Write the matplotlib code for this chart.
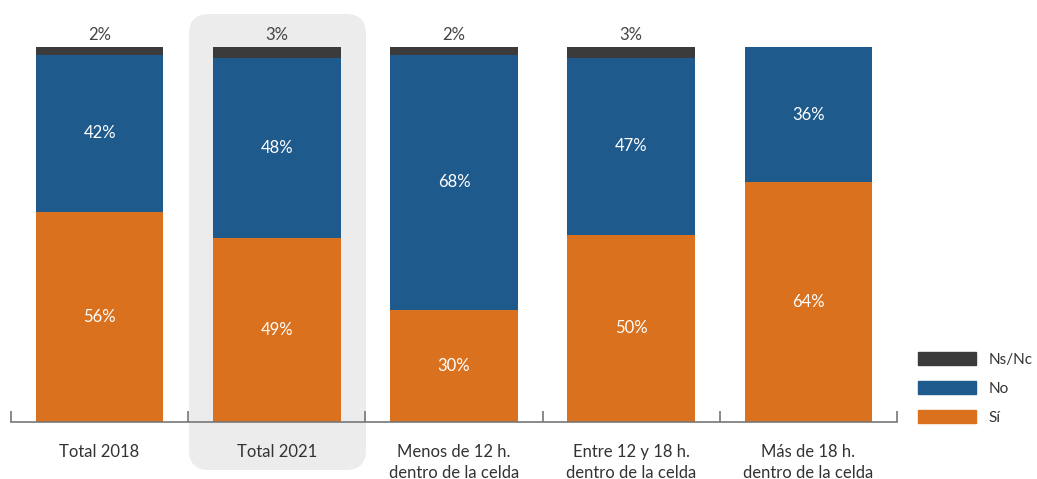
import numpy as np
import matplotlib.pyplot as plt
from matplotlib.patches import FancyBboxPatch, Patch

plt.rcParams['font.family'] = ['Lato', 'DejaVu Sans']

# data
categorias = ['Total 2018', 'Total 2021', 'Menos de 12 h.\ndentro de la celda',
              'Entre 12 y 18 h.\ndentro de la celda', 'Más de 18 h.\ndentro de la celda']
si = [56, 49, 30, 50, 64]
no = [42, 48, 68, 47, 36]
nsnc = [2, 3, 2, 3, 0]

c_si = '#d9711e'
c_no = '#1f5a8c'
c_ns = '#3b3b3b'

fig = plt.figure(figsize=(10.37, 4.79), dpi=100)
ax = fig.add_axes([11/1037, 57/479, (897-11)/1037, (422-47)/479])
ax.patch.set_alpha(0)

# highlight behind Total 2021
W, H = 1037, 479
box = FancyBboxPatch((189/W, 9/H), (366-189)/W, (470-14)/H,
                     boxstyle='round,pad=0,rounding_size=%f' % (20/W),
                     mutation_aspect=W/H, transform=fig.transFigure,
                     facecolor='#ececec', edgecolor='none', zorder=0, clip_on=False)
ax.add_patch(box)

x = np.arange(len(categorias))
w = 0.72
si = np.array(si); no = np.array(no); nsnc = np.array(nsnc)
ax.bar(x, si, w, color=c_si, zorder=2)
ax.bar(x, no, w, bottom=si, color=c_no, zorder=2)
ax.bar(x, nsnc, w, bottom=si+no, color=c_ns, zorder=2)

for i in range(len(x)):
    ax.text(x[i], si[i]/2, '%d%%' % si[i], ha='center', va='center', color='white', fontsize=12, zorder=3)
    ax.text(x[i], si[i] + no[i]/2, '%d%%' % no[i], ha='center', va='center', color='white', fontsize=12, zorder=3)
    if nsnc[i] > 0:
        ax.text(x[i], 100 + 1.0, '%d%%' % nsnc[i], ha='center', va='bottom', color='#444444', fontsize=12, zorder=3)

ax.set_xlim(-0.5, 4.5)
ax.set_ylim(0, 100)
for s in ['top', 'right', 'left']:
    ax.spines[s].set_visible(False)
ax.spines['bottom'].set_color('#777777')
ax.spines['bottom'].set_linewidth(1.2)
ax.spines['bottom'].set_zorder(3)
ax.set_yticks([])
ax.set_xticks(np.arange(-0.5, 5, 1))
ax.set_xticklabels([])
ax.tick_params(axis='x', direction='in', length=8, width=1.2, color='#777777')
ax.set_xticks(x, minor=True)
ax.set_xticklabels(categorias, minor=True, fontsize=12, color='#333333', linespacing=1.35)
ax.tick_params(axis='x', which='minor', length=0, pad=16)

handles = [Patch(color=c_ns, label='Ns/Nc'), Patch(color=c_no, label='No'), Patch(color=c_si, label='Sí')]
fig.legend(handles=handles, loc='upper left', bbox_to_anchor=(906/W, 1 - 340/H), frameon=False,
           fontsize=11, handlelength=3.8, handleheight=0.9, labelspacing=0.95,
           handletextpad=0.8, labelcolor='#333333', borderpad=0.3)

fig.savefig('out.png', dpi=100)
